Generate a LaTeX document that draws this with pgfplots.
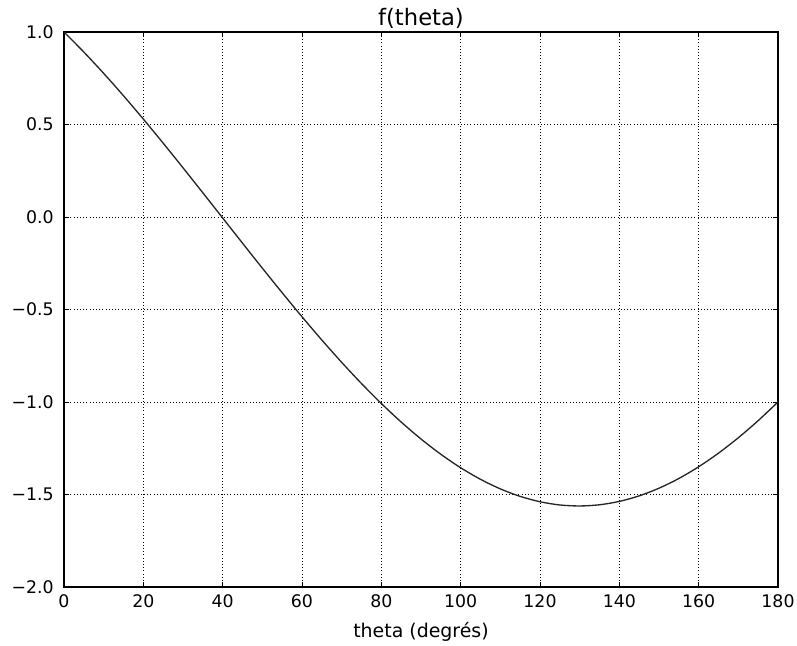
\documentclass[border=0pt]{standalone}
\usepackage{fontspec}
\setmainfont{DejaVu Sans}
\usepackage{pgfplots}
\pgfplotsset{compat=1.18}
\usetikzlibrary{calc}

\pgfplotstableread{
theta f
0 1.0000
5 0.8916
10 0.7764
15 0.6553
20 0.5293
25 0.3992
30 0.2660
35 0.1309
40 -0.0053
45 -0.1414
50 -0.2765
55 -0.4094
60 -0.5392
65 -0.6650
70 -0.7856
75 -0.9003
80 -1.0081
85 -1.1083
90 -1.2000
95 -1.2826
100 -1.3554
105 -1.4179
110 -1.4697
115 -1.5102
120 -1.5392
125 -1.5566
130 -1.5620
135 -1.5556
140 -1.5374
145 -1.5074
150 -1.4660
155 -1.4135
160 -1.3501
165 -1.2765
170 -1.1932
175 -1.1008
180 -1.0000
}\fdata

\begin{document}
\begin{tikzpicture}
\begin{axis}[
    name=ax,
    scale only axis,
    width=535.5pt, height=416.25pt,
    xmin=0, xmax=180, ymin=-2, ymax=1,
    xtick={0,20,...,180},
    ytick={-2,-1.5,-1,-0.5,0,0.5,1},
    yticklabels={−2.0,−1.5,−1.0,−0.5,0.0,0.5,1.0},
    /pgf/number format/assume math mode=true,
    tick label style={font=\fontsize{13}{15}\selectfont, inner sep=0pt},
    yticklabel style={xshift=-7.5pt},
    xticklabel style={yshift=-5.5pt},
    label style={font=\fontsize{14.2}{17}\selectfont},
    title style={font=\fontsize{17}{20}\selectfont, inner sep=0pt, yshift=-3.5pt},
    title={f(theta)},
    xlabel={theta (degrés)},
    xlabel style={inner sep=0pt, yshift=-11pt},
    grid=major,
    major grid style={dotted, black, line width=0.6pt},
    axis line style={black, line width=0.8pt},
    tick align=inside,
    major tick length=4pt,
    tick style={black, line width=0.6pt},
]
\addplot[black!85, line width=1pt, smooth] table[x=theta, y=f] {\fdata};
\end{axis}
\path ($(ax.south west)+(-48pt,-44.25pt)$) rectangle ($(ax.north east)+(14.25pt,24pt)$);
\end{tikzpicture}
\end{document}
